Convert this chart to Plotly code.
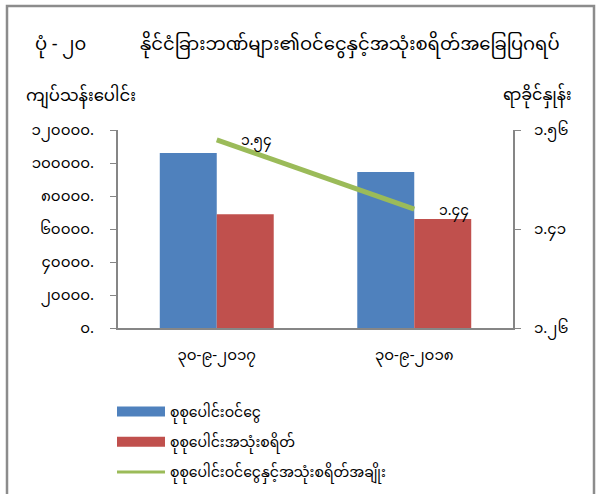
import plotly.graph_objects as go

# ---- data ----
categories = ["၃၀-၉-၂၀၁၇", "၃၀-၉-၂၀၁၈"]
income = [106000, 94500]          # စုစုပေါင်းဝင်ငွေ
expense = [69000, 66000]          # စုစုပေါင်းအသုံးစရိတ်
ratio = [1.545, 1.44]             # ratio
ratio_labels = ["၁.၅၄", "၁.၄၄"]

series_names = ["စုစုပေါင်းဝင်ငွေ", "စုစုပေါင်းအသုံးစရိတ်", "စုစုပေါင်းဝင်ငွေနှင့်အသုံးစရိတ်အချိုး"]
series_colors = ["#4f81bd", "#c0504d", "#9bbb59"]

left_tickvals = [0, 20000, 40000, 60000, 80000, 100000, 120000]
left_ticktext = ["၀.", "၂၀၀၀၀.", "၄၀၀၀၀.", "၆၀၀၀၀.", "၈၀၀၀၀.", "၁၀၀၀၀၀.", "၁၂၀၀၀၀."]
right_tickvals = [1.26, 1.41, 1.56]
right_ticktext = ["၁.၂၆", "၁.၄၁", "၁.၅၆"]

title_num = "ပုံ - ၂၀"
title_text = "နိုင်ငံခြားဘဏ်များ၏ဝင်ငွေနှင့်အသုံးစရိတ်အခြေပြဂရပ်"
left_axis_title = "ကျပ်သန်းပေါင်း"
right_axis_title = "ရာခိုင်နှုန်း"

FONT = "Noto Sans Myanmar, Myanmar Text, Padauk, Myanmar3, Pyidaungsu, sans-serif"
AX = "#868686"

W, H = 597, 494
L, R, T, B = 118, 84, 130, 166
pw, ph = W - L - R, H - T - B

def px_x(x):
    return (x - L) / pw

def px_y(y):
    return (H - B - y) / ph

fig = go.Figure()
fig.add_trace(go.Bar(x=categories, y=income, name=series_names[0],
                     marker=dict(color=series_colors[0], line=dict(width=0)),
                     showlegend=False))
fig.add_trace(go.Bar(x=categories, y=expense, name=series_names[1],
                     marker=dict(color=series_colors[1], line=dict(width=0)),
                     showlegend=False))
fig.add_trace(go.Scatter(x=categories, y=ratio, name=series_names[2], yaxis="y2",
                         mode="lines", line=dict(color=series_colors[2], width=5),
                         showlegend=False))

# legend entries (wide rectangles like the reference)
for i, (nm, col) in enumerate(zip(series_names, series_colors)):
    fig.add_trace(go.Scatter(x=[None], y=[None], mode="lines", name=nm,
                             line=dict(color=col, width=10 if i < 2 else 3),
                             legendgroup=f"g{i}", showlegend=True))

for c, v, t in zip(categories, ratio, ratio_labels):
    fig.add_annotation(x=c, y=v, yref="y2", text=t, showarrow=False,
                       xanchor="center", yanchor="middle", xshift=40, yshift=-2,
                       font=dict(size=14, color="#000000", family=FONT))

# titles
fig.add_annotation(xref="paper", yref="paper", x=px_x(60), y=px_y(45), text=title_num,
                   showarrow=False, xanchor="center", yanchor="middle",
                   font=dict(size=18, color="#000", family=FONT))
fig.add_annotation(xref="paper", yref="paper", x=px_x(350), y=px_y(45), text=title_text,
                   showarrow=False, xanchor="center", yanchor="middle",
                   font=dict(size=18, color="#000", family=FONT))
fig.add_annotation(xref="paper", yref="paper", x=px_x(81), y=px_y(97), text=left_axis_title,
                   showarrow=False, xanchor="center", yanchor="middle",
                   font=dict(size=16.5, color="#000", family=FONT))
fig.add_annotation(xref="paper", yref="paper", x=px_x(537), y=px_y(97), text=right_axis_title,
                   showarrow=False, xanchor="center", yanchor="middle",
                   font=dict(size=16, color="#000", family=FONT))

# outer frame (left, top, right)
fig.add_shape(type="path", xref="paper", yref="paper",
              path=f"M {px_x(7)},{px_y(520)} L {px_x(7)},{px_y(6)} L {px_x(594)},{px_y(6)} L {px_x(594)},{px_y(520)}",
              line=dict(color="#8c8c8c", width=2.5))

fig.update_layout(
    width=W, height=H,
    margin=dict(l=L, r=R, t=T, b=B, autoexpand=False),
    paper_bgcolor="white", plot_bgcolor="white",
    font=dict(family=FONT, size=14, color="#000"),
    barmode="group", bargap=0.423, bargroupgap=0,
    showlegend=True,
    legend=dict(x=px_x(112), y=px_y(396), xanchor="left", yanchor="top",
                traceorder="grouped", tracegroupgap=9, itemwidth=48,
                font=dict(size=14, family=FONT), bgcolor="rgba(0,0,0,0)"),
    xaxis=dict(showline=True, linecolor=AX, linewidth=2, ticks="", showgrid=False,
               tickfont=dict(size=15), ticklabelstandoff=12),
    yaxis=dict(range=[0, 120000], tickvals=left_tickvals, ticktext=left_ticktext,
               showline=True, linecolor=AX, linewidth=2, ticks="outside", ticklen=6,
               tickcolor=AX, showgrid=False, zeroline=False, tickfont=dict(size=15),
               ticklabelstandoff=13),
    yaxis2=dict(range=[1.26, 1.56], tickvals=right_tickvals, ticktext=right_ticktext,
                overlaying="y", side="right", showline=True, linecolor=AX, linewidth=2,
                ticks="outside", ticklen=6, tickcolor=AX, showgrid=False, zeroline=False,
                tickfont=dict(size=15), ticklabelstandoff=10),
)

fig.write_html("out.html", config={"displayModeBar": False},
               post_script="document.body.style.margin='0';document.body.style.overflow='hidden';")
